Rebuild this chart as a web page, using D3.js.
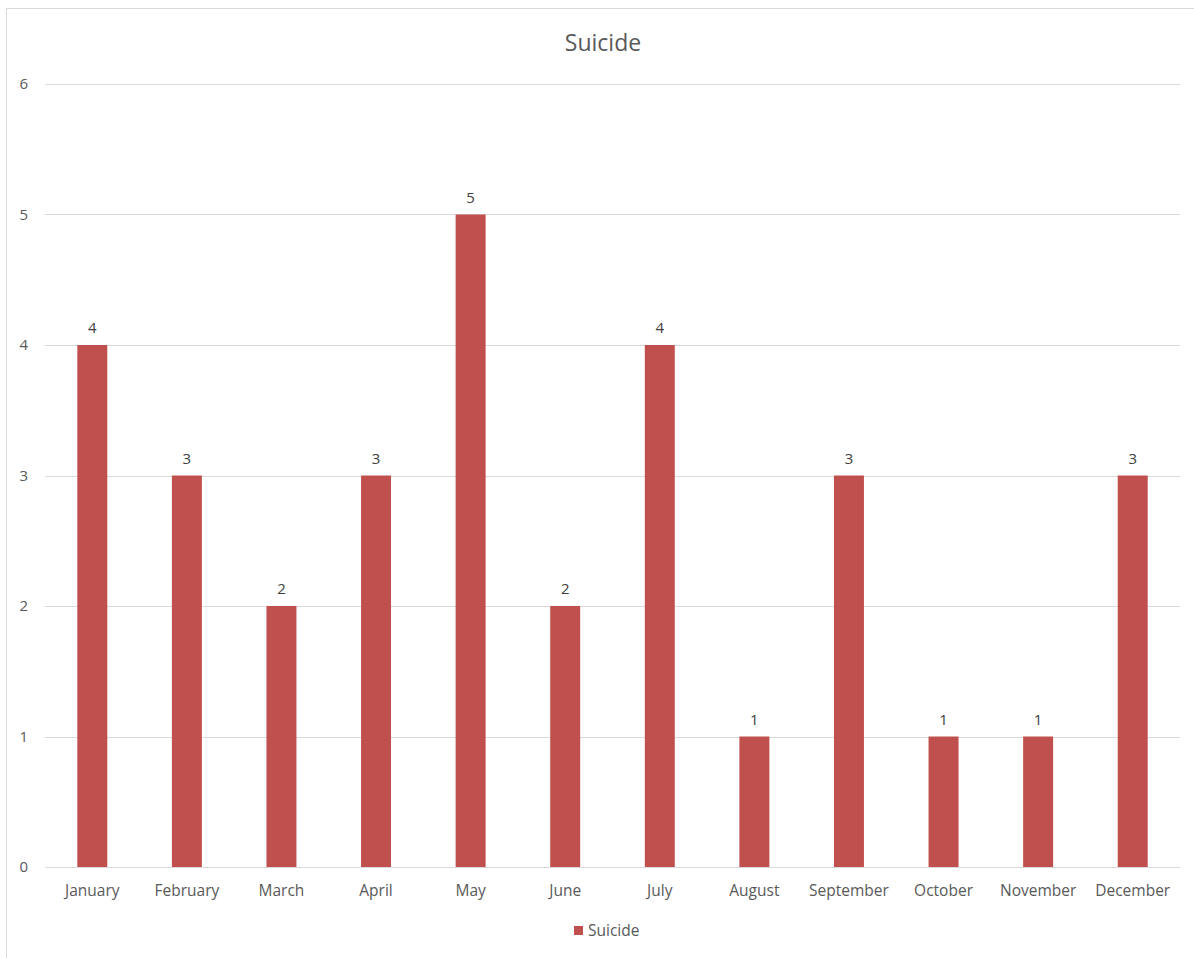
<!DOCTYPE html>
<html><head><meta charset="utf-8">
<script src="https://cdn.jsdelivr.net/npm/d3@7"></script>
<style>
html,body{margin:0;padding:0;background:#fff;}
svg{display:block;font-family:"Open Sans",sans-serif;}
</style></head>
<body>
<script>
const categories = ["January","February","March","April","May","June","July","August","September","October","November","December"];
const suicideValues = [4,3,2,3,5,2,4,1,3,1,1,3];
const yTicks = [0,1,2,3,4,5,6];
const seriesName = "Suicide";
const chartTitle = "Suicide";

const W = 1194, H = 958;
const margin = {left:45, right:14, top:84, bottom:91};
const svg = d3.select("body").append("svg").attr("width",W).attr("height",H);

// outer border (top and left visible)
svg.append("line").attr("x1",6.5).attr("x2",W).attr("y1",8.5).attr("y2",8.5).attr("stroke","#d9d9d9");
svg.append("line").attr("x1",6.5).attr("x2",6.5).attr("y1",8.5).attr("y2",H).attr("stroke","#d9d9d9");

const x = d3.scaleBand().domain(categories).range([margin.left, W-margin.right]).paddingInner(0.683).paddingOuter(0.3415);
const y = d3.scaleLinear().domain([0,6]).range([H-margin.bottom, margin.top]);

// gridlines
svg.append("g").selectAll("line").data(yTicks).join("line")
  .attr("x1",margin.left).attr("x2",W-margin.right)
  .attr("y1",d=>Math.round(y(d))+0.5).attr("y2",d=>Math.round(y(d))+0.5)
  .attr("stroke","#d9d9d9").attr("stroke-width",1);

// y labels
svg.append("g").selectAll("text").data(yTicks).join("text")
  .attr("x",28).attr("y",d=>y(d)+5).attr("text-anchor","end")
  .attr("fill","#595959").attr("font-size",15).text(d=>d);

// bars
svg.append("g").selectAll("rect").data(categories).join("rect")
  .attr("x",d=>x(d)).attr("width",x.bandwidth())
  .attr("y",(d,i)=>y(suicideValues[i])).attr("height",(d,i)=>y(0)-y(suicideValues[i]))
  .attr("fill","#c0504d");

// baseline axis
svg.append("line").attr("x1",margin.left).attr("x2",W-margin.right)
  .attr("y1",Math.round(y(0))+0.5).attr("y2",Math.round(y(0))+0.5).attr("stroke","#d9d9d9");

// data labels
svg.append("g").selectAll("text").data(categories).join("text")
  .attr("x",d=>x(d)+x.bandwidth()/2).attr("y",(d,i)=>y(suicideValues[i])-12)
  .attr("text-anchor","middle").attr("fill","#404040").attr("font-size",15)
  .text((d,i)=>suicideValues[i]);

// x labels
svg.append("g").selectAll("text").data(categories).join("text")
  .attr("x",d=>x(d)+x.bandwidth()/2).attr("y",y(0)+29)
  .attr("text-anchor","middle").attr("fill","#595959").attr("font-size",15.5)
  .text(d=>d);

// title
svg.append("text").attr("x",603).attr("y",51).attr("text-anchor","middle")
  .attr("fill","#595959").attr("font-size",23).text(chartTitle);

// legend
svg.append("rect").attr("x",574).attr("y",926).attr("width",9).attr("height",9).attr("fill","#c0504d");
svg.append("text").attr("x",588).attr("y",936).attr("fill","#595959").attr("font-size",15.5).text(seriesName);
</script>
</body></html>
